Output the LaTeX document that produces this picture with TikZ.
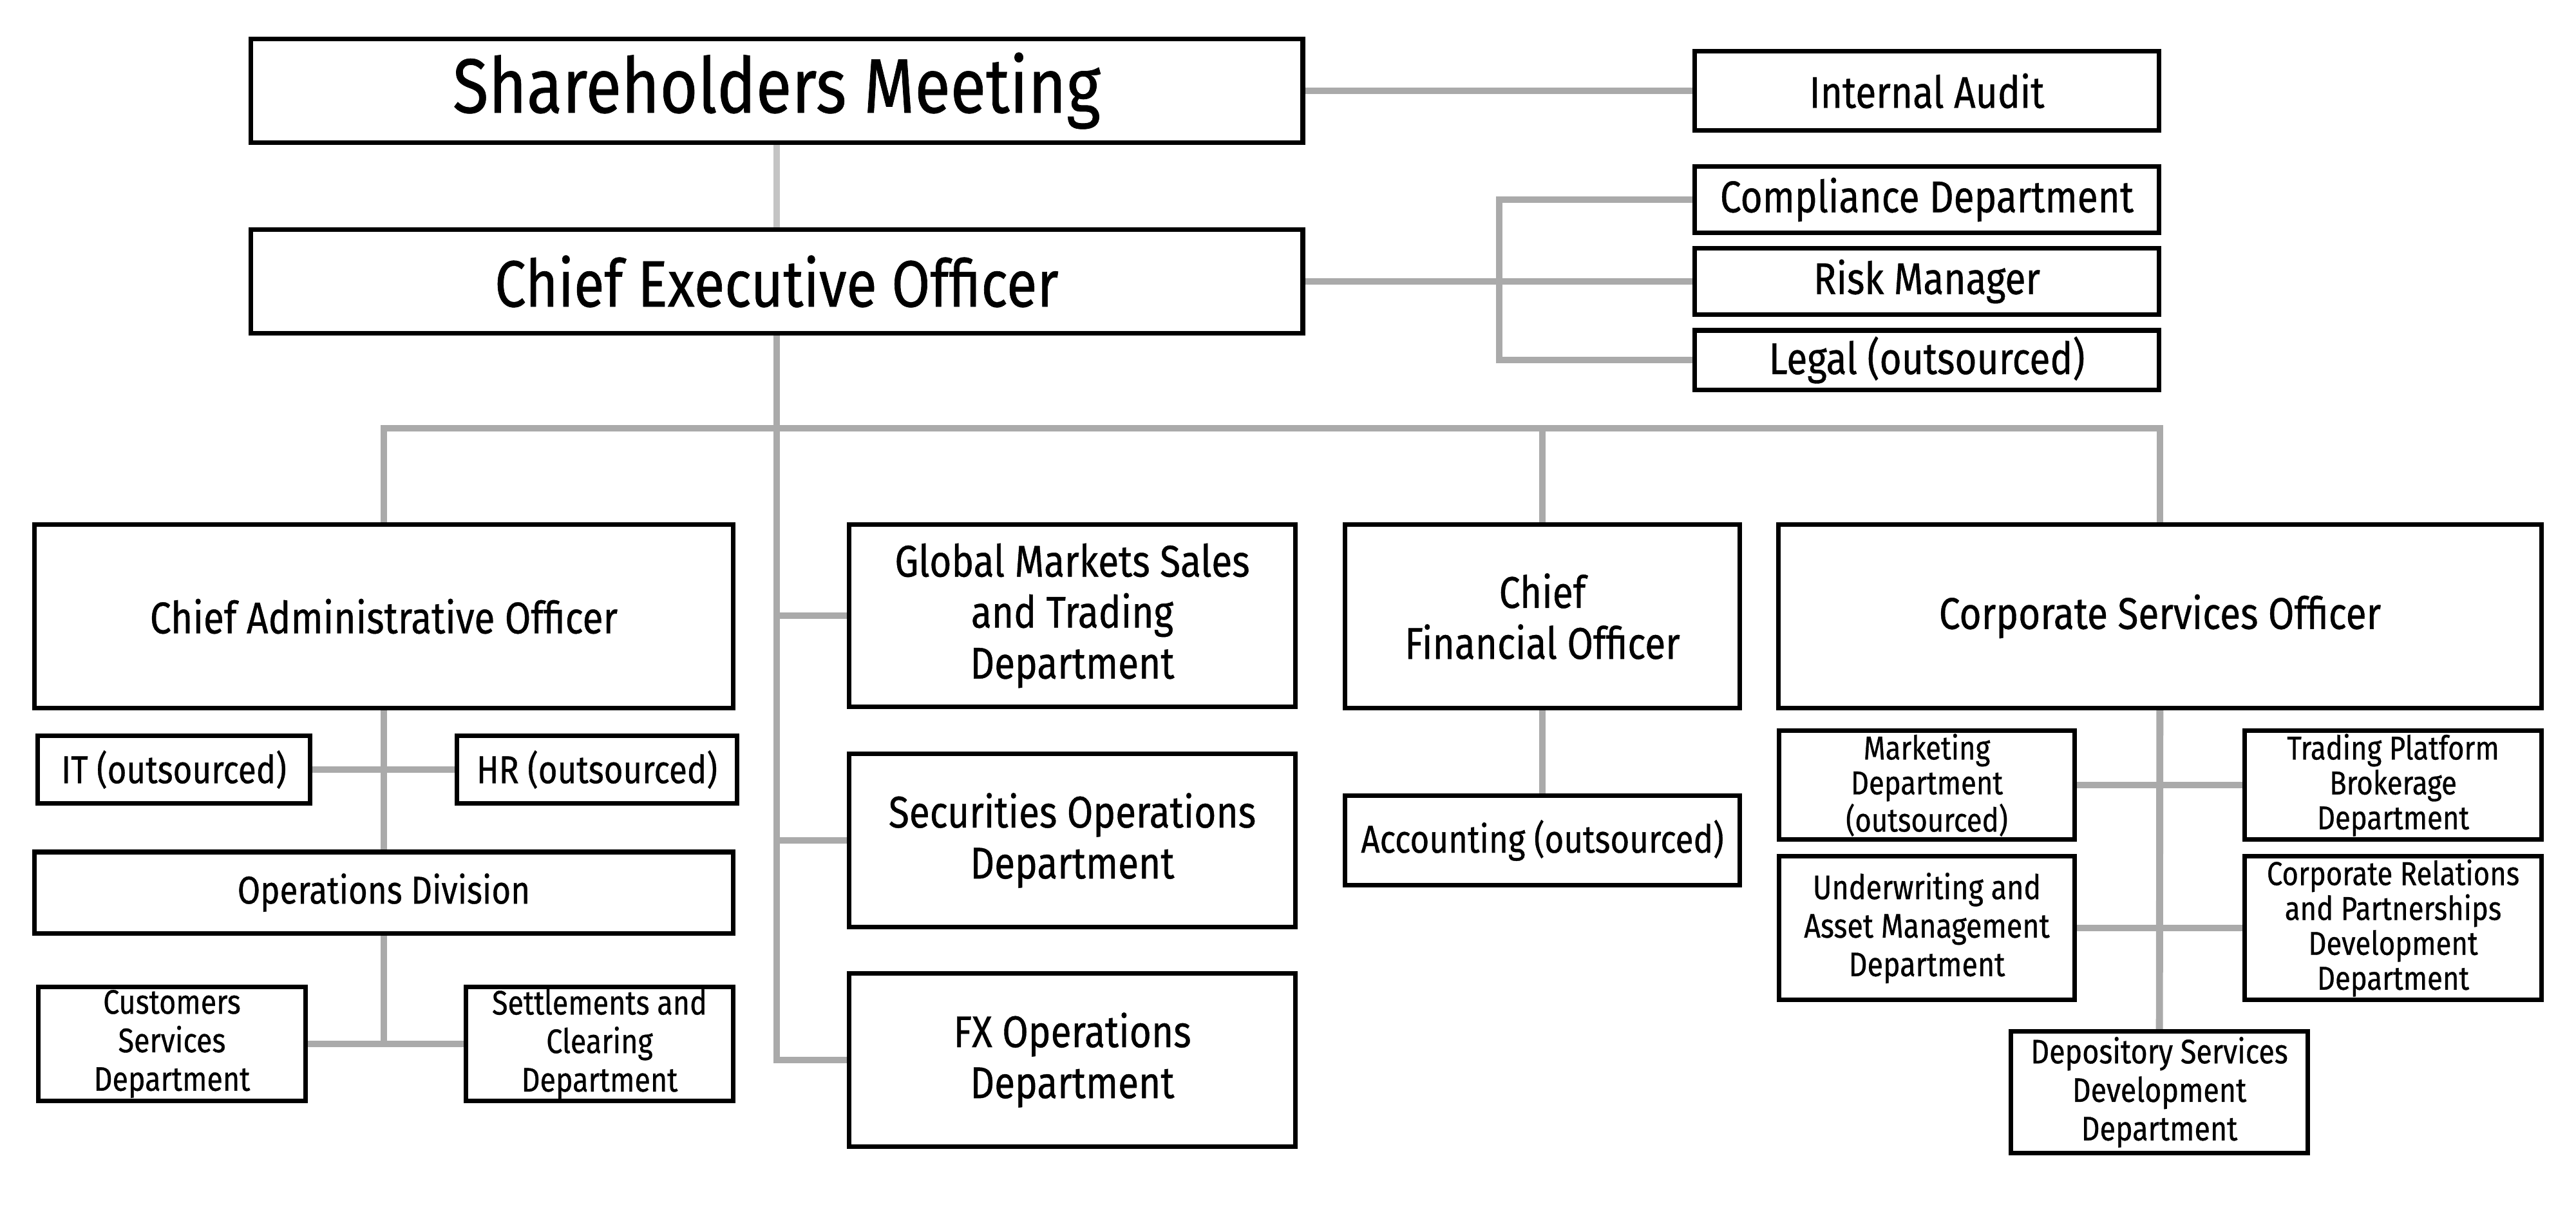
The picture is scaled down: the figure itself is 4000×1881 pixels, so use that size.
\documentclass[tikz,border=0pt]{standalone}
\usepackage{fontspec}
\setmainfont{Fira Sans}[FakeStretch=0.85,FakeBold=0.6]
\usetikzlibrary{positioning,backgrounds}

\begin{document}
\begin{tikzpicture}[x=0.01cm,y=-0.01cm,
        box/.style={shape=rectangle,draw=black,line width=2pt,fill=white,align=center,inner sep=0pt},
        link/.style={draw=linkgray,line width=3.1pt,line join=miter},
        bigtxt/.style={font=\fontsize{34}{40}\selectfont},
        ceotxt/.style={font=\fontsize{29}{34}\selectfont},
        midtxt/.style={font=\fontsize{19.6}{22.5}\selectfont},
        subtxt/.style={font=\fontsize{17.1}{21}\selectfont},
        smltxt/.style={font=\fontsize{15}{17}\selectfont},
        tnytxt/.style={font=\fontsize{14.6}{15.4}\selectfont},
        ]
\definecolor{linkgray}{HTML}{AAAAAA}
\definecolor{lightgray}{HTML}{C4C4C4}
\useasboundingbox (0,0) rectangle (4000,1881);

% top level
\node [box,bigtxt,minimum width=16.33cm,minimum height=1.60cm] (sm) at (1206,141) {Shareholders Meeting};
\node [box,ceotxt,minimum width=16.33cm,minimum height=1.61cm] (ceo) at (1206,437) {Chief Executive Officer};

% right column
\node [box,midtxt,minimum width=7.21cm,minimum height=1.22cm] (audit) at (2992,141) {Internal Audit};
\node [box,midtxt,minimum width=7.21cm,minimum height=1.03cm] (comp) at (2992,310) {Compliance Department};
\node [box,midtxt,minimum width=7.21cm,minimum height=1.02cm] (risk) at (2992,437) {Risk Manager};
\node [box,midtxt,minimum width=7.21cm,minimum height=0.92cm] (legal) at (2992,559) {Legal (outsourced)};

% officers
\node [box,midtxt,minimum width=10.84cm,minimum height=2.85cm] (cao) at (596,957) {Chief Administrative Officer};
\node [box,midtxt,minimum width=6.93cm,minimum height=2.83cm] (gm) at (1665,956) {Global Markets Sales\\and Trading\\Department};
\node [box,midtxt,minimum width=6.13cm,minimum height=2.85cm] (cfo) at (2395,957) {Chief\\Financial Officer};
\node [box,midtxt,minimum width=11.84cm,minimum height=2.85cm] (cso) at (3354,957) {Corporate Services Officer};

% administrative branch
\node [box,subtxt,minimum width=4.22cm,minimum height=1.05cm] (it) at (270,1195) {IT (outsourced)};
\node [box,subtxt,minimum width=4.35cm,minimum height=1.05cm] (hr) at (927,1195) {HR (outsourced)};
\node [box,subtxt,minimum width=10.84cm,minimum height=1.26cm] (opdiv) at (596,1386) {Operations Division};
\node [box,smltxt,minimum width=4.15cm,minimum height=1.77cm] (cust) at (267,1621) {Customers\\Services\\Department};
\node [box,smltxt,minimum width=4.15cm,minimum height=1.77cm] (settle) at (931,1621) {Settlements and\\Clearing\\Department};

% markets branch
\node [box,midtxt,minimum width=6.93cm,minimum height=2.68cm] (sec) at (1665,1305) {Securities Operations\\Department};
\node [box,midtxt,minimum width=6.93cm,minimum height=2.69cm] (fx) at (1665,1646) {FX Operations\\Department};

% finance branch
\node [box,subtxt,minimum width=6.13cm,minimum height=1.39cm] (acc) at (2395,1305) {Accounting (outsourced)};

% corporate services branch
\node [box,tnytxt,minimum width=4.59cm,minimum height=1.69cm] (mkt) at (2992,1219) {Marketing\\Department\\(outsourced)};
\node [box,tnytxt,minimum width=4.60cm,minimum height=1.69cm] (tpb) at (3716,1219) {Trading Platform\\Brokerage\\Department};
\node [box,smltxt,minimum width=4.59cm,minimum height=2.22cm] (uwr) at (2992,1441) {Underwriting and\\Asset Management\\Department};
\node [box,tnytxt,minimum width=4.60cm,minimum height=2.22cm] (crp) at (3716,1441) {Corporate Relations\\and Partnerships\\Development\\Department};
\node [box,smltxt,minimum width=4.61cm,minimum height=1.88cm] (dep) at (3353,1696) {Depository Services\\Development\\Department};

\coordinate (bus) at (1206,665);
\coordinate (brk) at (2328,437);

\begin{scope}[on background layer]
\fill[white] (0,0) rectangle (4000,1881);
\path[link,draw=lightgray] (sm) -- (ceo);
\path[link] (sm.east) -- (audit.west);
\path[link] (ceo.east) -- (risk.west);
\path[link] (comp.west) -| (brk) |- (legal.west);

\path[link] (ceo.south) -- (ceo.south |- fx.west) -- (fx.west);
\path[link] (cao.north) |- (bus) -| (cso.north);
\path[link] (cfo.north) -- (cfo.north |- bus);
\path[link] (gm.west) -- (gm.west -| ceo.south);
\path[link] (sec.west) -- (sec.west -| ceo.south);

\path[link] (cao) -- (opdiv);
\path[link] (it) -- (hr);
\path[link] (opdiv.south) -- (opdiv.south |- cust.east);
\path[link] (cust) -- (settle);

\path[link] (cfo) -- (acc);

\path[link] (cso) -- (dep);
\path[link] (mkt) -- (tpb);
\path[link] (uwr) -- (crp);
\end{scope}
\end{tikzpicture}
\end{document}
